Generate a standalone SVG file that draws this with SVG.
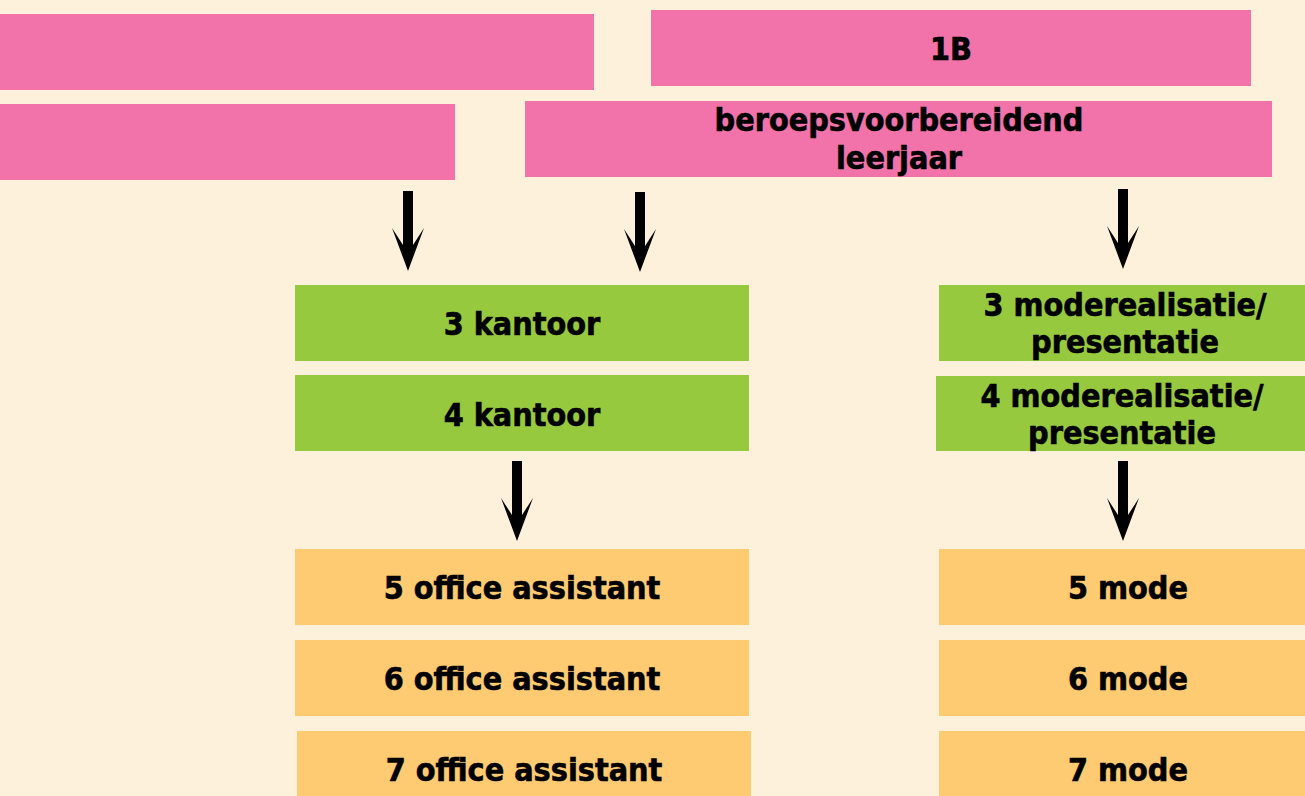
<svg xmlns="http://www.w3.org/2000/svg" width="1305" height="796" viewBox="0 0 1305 796">
<defs>
<style>
.bg{fill:#FEF1DC}
.pink{fill:#F273AA}
.green{fill:#97C93F}
.orange{fill:#FECB72}
text{font-family:"DejaVu Sans Condensed","DejaVu Sans",sans-serif;font-weight:bold;font-size:32px;fill:#000;stroke:#000;stroke-width:0.6px;text-anchor:middle}
.arrow{fill:#000}
</style>
<polygon id="arr" points="-5,0 5,0 5,54 16,37 0,80 -16,37 -5,54"/>
</defs>
<rect class="bg" x="0" y="0" width="1305" height="796"/>
<g id="n_pinkA"><rect class="pink" x="0" y="14" width="594" height="76"/></g>
<g id="n_pinkB"><rect class="pink" x="0" y="104" width="455" height="76"/></g>
<g id="n_1B"><rect class="pink" x="651" y="10" width="600" height="76"/><text x="951" y="60">1B</text></g>
<g id="n_beroeps"><rect class="pink" x="525" y="101" width="747" height="76"/><text x="899" y="131">beroepsvoorbereidend</text><text x="899" y="169">leerjaar</text></g>
<g id="n_3kantoor"><rect class="green" x="295" y="285" width="454" height="76"/><text x="522" y="335">3 kantoor</text></g>
<g id="n_4kantoor"><rect class="green" x="295" y="375" width="454" height="76"/><text x="522" y="426">4 kantoor</text></g>
<g id="n_3mode"><rect class="green" x="939" y="285" width="372" height="76"/><text x="1125" y="316">3 moderealisatie/</text><text x="1125" y="353">presentatie</text></g>
<g id="n_4mode"><rect class="green" x="936" y="376" width="375" height="75"/><text x="1122" y="407">4 moderealisatie/</text><text x="1122" y="444">presentatie</text></g>
<g id="n_5office"><rect class="orange" x="295" y="549" width="454" height="76"/><text x="522" y="599">5 office assistant</text></g>
<g id="n_6office"><rect class="orange" x="295" y="640" width="454" height="76"/><text x="522" y="690">6 office assistant</text></g>
<g id="n_7office"><rect class="orange" x="297" y="731" width="454" height="76"/><text x="524" y="781">7 office assistant</text></g>
<g id="n_5mode"><rect class="orange" x="939" y="549" width="372" height="76"/><text x="1128" y="599">5 mode</text></g>
<g id="n_6mode"><rect class="orange" x="939" y="640" width="372" height="76"/><text x="1128" y="690">6 mode</text></g>
<g id="n_7mode"><rect class="orange" x="939" y="731" width="372" height="76"/><text x="1128" y="781">7 mode</text></g>
<g id="connectors" class="arrow">
<use href="#arr" x="408" y="191"/>
<use href="#arr" x="640" y="192"/>
<use href="#arr" x="1123" y="189"/>
<use href="#arr" x="517" y="461"/>
<use href="#arr" x="1123" y="461"/>
</g>
</svg>
